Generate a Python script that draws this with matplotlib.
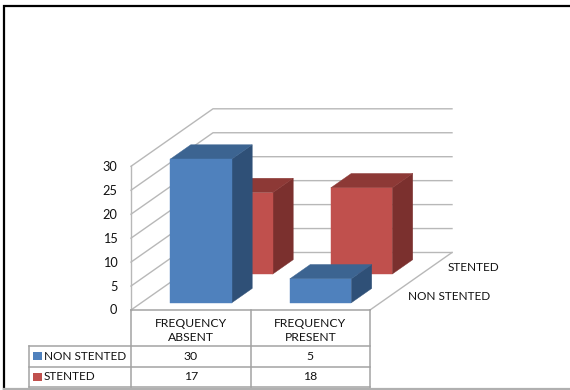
import matplotlib
matplotlib.use('Agg')
import matplotlib.pyplot as plt
from matplotlib.patches import Polygon, Rectangle

plt.rcParams['font.family'] = ['Lato', 'DejaVu Sans']

categories = ['FREQUENCY\nABSENT', 'FREQUENCY\nPRESENT']
series_names = ['NON STENTED', 'STENTED']
non_stented = [30, 5]
stented = [17, 18]
y_ticks = [0, 5, 10, 15, 20, 25, 30]

# colours per face: front, top, side
BLUE = ('#4F81BD', '#3C6491', '#2F5077')
RED = ('#C0504D', '#8D3936', '#7B302E')
GRID = '#b8b8b8'
TEXT = '#111111'

# chart box in pixels
X0, Y0 = 131.0, 310.0
CAT_W = 119.5
UNIT = 4.79
DEPTH_X, DEPTH_Y = 82.0, -57.5
BAR_W = 0.514
BAR_D = 0.25


def project(cat, depth, value):
    # oblique projection: cat in category units, depth 0..1 front to back
    return (X0 + cat * CAT_W + depth * DEPTH_X,
            Y0 + depth * DEPTH_Y - value * UNIT)


def draw_bar(ax, cat_idx, series_idx, value, colors, z):
    c0 = cat_idx + (1 - BAR_W) / 2
    c1 = c0 + BAR_W
    d0 = series_idx * 0.5 + 0.125
    d1 = d0 + BAR_D
    front = [project(c0, d0, 0), project(c1, d0, 0),
             project(c1, d0, value), project(c0, d0, value)]
    top = [project(c0, d0, value), project(c1, d0, value),
           project(c1, d1, value), project(c0, d1, value)]
    side = [project(c1, d0, 0), project(c1, d1, 0),
            project(c1, d1, value), project(c1, d0, value)]
    ax.add_patch(Polygon(side, closed=True, fc=colors[2], ec=colors[2], lw=0.3, zorder=z))
    ax.add_patch(Polygon(top, closed=True, fc=colors[1], ec=colors[1], lw=0.3, zorder=z))
    ax.add_patch(Polygon(front, closed=True, fc=colors[0], ec=colors[0], lw=0.3, zorder=z))


fig = plt.figure(figsize=(5.7, 3.9), dpi=100)
ax = fig.add_axes([0, 0, 1, 1])
ax.set_xlim(0, 570)
ax.set_ylim(390, 0)
ax.axis('off')

# page frame
ax.plot([3.5, 3.5, 570], [390, 6, 6], color='black', lw=1.6, solid_joinstyle='miter')
ax.plot([3.5, 570], [388.8, 388.8], color='#b0b0b0', lw=1.6)

# walls and floor
n_cat = len(categories)
for t in y_ticks:
    xs, ys = zip(project(0, 0, t), project(0, 1, t), project(n_cat, 1, t))
    ax.plot(xs, ys, color=GRID, lw=1.0, zorder=1)
    ax.text(X0 - 13.5, Y0 - t * UNIT + 0.5, str(t), ha='right', va='center',
            fontsize=9.2, color=TEXT)
xs, ys = zip(project(0, 0, 0), project(0, 0, y_ticks[-1]))
ax.plot(xs, ys, color=GRID, lw=1.0, zorder=1)
xs, ys = zip(project(n_cat, 0, 0), project(n_cat, 1, 0))
ax.plot(xs, ys, color=GRID, lw=1.0, zorder=1)

# back series first so the front row overlaps it
for i, v in enumerate(stented):
    draw_bar(ax, i, 1, v, RED, 3)
for i, v in enumerate(non_stented):
    draw_bar(ax, i, 0, v, BLUE, 4)

# depth axis labels
ax.text(448, 267.5, series_names[1], ha='left', va='center', fontsize=8.5, color=TEXT)
ax.text(408, 297, series_names[0], ha='left', va='center', fontsize=8.5, color=TEXT)

# data table below the floor
TABLE = '#a3a3a3'
col_x = [X0, X0 + CAT_W, X0 + 2 * CAT_W]
leg_x = 28.5
row_y = [Y0, 345.7, 366.7, 387.3]
ax.plot([col_x[0], col_x[2]], [row_y[0]] * 2, color=TABLE, lw=1.1, zorder=5)
for y in row_y[1:]:
    ax.plot([leg_x, col_x[2]], [y, y], color=TABLE, lw=1.1)
for x in col_x:
    ax.plot([x, x], [row_y[0], row_y[3]], color=TABLE, lw=1.1)
ax.plot([leg_x, leg_x], [row_y[1], row_y[3]], color=TABLE, lw=1.1)

for i, label in enumerate(categories):
    ax.text(X0 + (i + 0.5) * CAT_W, (row_y[0] + row_y[1]) / 2 + 2.5, label, ha='center',
            va='center', fontsize=8.7, color=TEXT, linespacing=1.4)

rows = [(series_names[0], non_stented, BLUE[0]), (series_names[1], stented, RED[0])]
for r, (name, vals, col) in enumerate(rows):
    yc = (row_y[r + 1] + row_y[r + 2]) / 2
    ax.add_patch(Rectangle((33, yc - 4), 8.5, 8, fc=col, ec='none'))
    ax.text(44, yc, name, ha='left', va='center', fontsize=8.5, color=TEXT)
    for i, v in enumerate(vals):
        ax.text(X0 + (i + 0.5) * CAT_W, yc, str(v), ha='center', va='center',
                fontsize=8.8, color=TEXT)

fig.savefig('out.png', dpi=100)
